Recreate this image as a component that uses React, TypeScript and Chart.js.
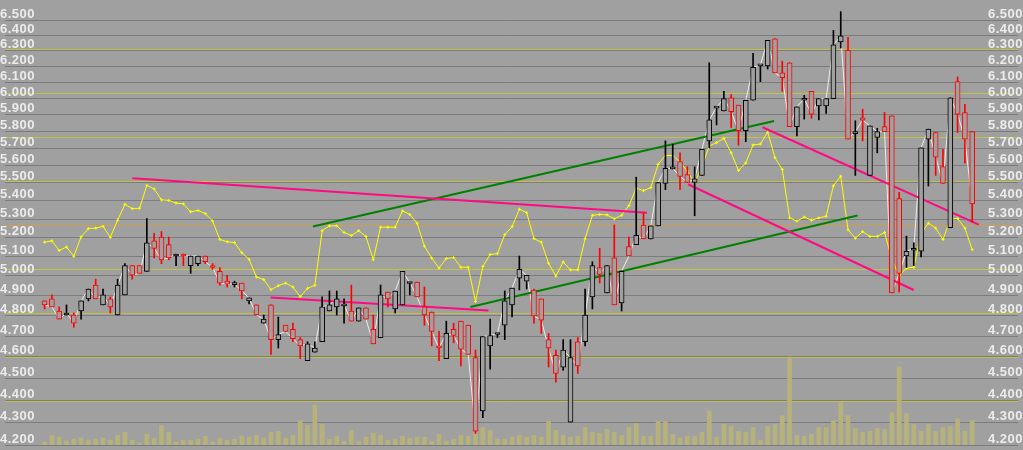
import React, { useEffect, useRef } from 'react';
import { Chart, registerables } from 'chart.js';
Chart.register(...registerables);

// ---- data ----
const OPEN = [4.87, 4.88, 4.82, 4.80, 4.80, 4.82, 4.88, 4.95, 4.85, 4.88,
  4.80, 4.90, 5.05, 5.05, 5.02, 5.18, 5.20, 5.16, 5.10, 5.11,
  5.05, 5.06, 5.10, 5.045, 5.02, 4.97, 4.952, 4.96, 4.87, 4.85,
  4.76, 4.85, 4.68, 4.75, 4.73, 4.68, 4.58, 4.62, 4.67, 4.82,
  4.84, 4.845, 4.82, 4.77, 4.835, 4.73, 4.69, 4.915, 4.83, 4.85,
  4.958, 4.965, 4.84, 4.815, 4.65, 4.59, 4.73, 4.77, 4.75, 4.595,
  4.35, 4.65, 4.705, 4.75, 4.85, 4.985, 4.97, 4.925, 4.88, 4.68,
  4.605, 4.55, 4.30, 4.67, 4.67, 4.89, 5.04, 4.91, 5.09, 4.86,
  5.15, 5.16, 5.265, 5.19, 5.26, 5.495, 5.577, 5.62, 5.545, 5.50,
  5.54, 5.74, 5.937, 5.92, 6.00, 5.955, 5.80, 5.985, 6.20, 6.20,
  6.375, 6.155, 6.22, 5.825, 5.985, 6.04, 5.95, 5.95, 5.995, 6.355,
  6.30, 5.783, 5.878, 5.54, 5.76, 5.825, 5.89, 5.41, 5.10, 5.13,
  5.125, 5.75, 5.79, 5.59, 5.25, 6.10, 5.91, 5.795];
const HIGH = [4.87, 4.90, 4.84, 4.85, 4.81, 4.87, 4.93, 4.98, 4.93, 4.89,
  4.98, 5.06, 5.05, 5.05, 5.30, 5.22, 5.23, 5.20, 5.11, 5.11,
  5.10, 5.10, 5.10, 5.06, 5.04, 5.00, 4.97, 4.96, 4.885, 4.85,
  4.80, 4.85, 4.79, 4.75, 4.76, 4.69, 4.67, 4.67, 4.89, 4.92,
  4.92, 4.88, 4.95, 4.835, 4.835, 4.80, 4.95, 4.915, 4.92, 5.02,
  4.962, 4.965, 4.94, 4.815, 4.72, 4.77, 4.76, 4.77, 4.75, 4.63,
  4.695, 4.78, 4.71, 4.92, 4.935, 5.10, 5.00, 4.93, 4.88, 4.71,
  4.63, 4.68, 4.68, 4.69, 4.93, 5.07, 5.14, 5.05, 5.265, 5.02,
  5.20, 5.53, 5.33, 5.26, 5.50, 5.74, 5.72, 5.67, 5.59, 5.59,
  5.69, 6.22, 5.941, 6.04, 6.02, 5.955, 5.985, 6.28, 6.205, 6.365,
  6.375, 6.23, 6.22, 5.945, 6.015, 6.04, 5.995, 5.995, 6.43, 6.555,
  6.385, 5.86, 5.93, 5.83, 5.815, 5.91, 5.89, 5.445, 5.205, 5.17,
  5.70, 5.81, 5.79, 5.69, 6.00, 6.13, 5.96, 5.795];
const LOW = [4.83, 4.84, 4.78, 4.80, 4.74, 4.78, 4.87, 4.88, 4.85, 4.81,
  4.80, 4.90, 4.98, 5.01, 5.02, 5.09, 5.06, 5.08, 5.05, 5.05,
  5.01, 5.05, 5.06, 5.03, 4.95, 4.94, 4.94, 4.88, 4.855, 4.80,
  4.76, 4.61, 4.64, 4.72, 4.67, 4.59, 4.58, 4.62, 4.67, 4.82,
  4.80, 4.76, 4.77, 4.77, 4.78, 4.66, 4.69, 4.84, 4.81, 4.85,
  4.90, 4.89, 4.75, 4.65, 4.58, 4.59, 4.665, 4.555, 4.61, 4.25,
  4.32, 4.54, 4.69, 4.68, 4.79, 4.925, 4.93, 4.76, 4.71, 4.55,
  4.48, 4.535, 4.30, 4.52, 4.65, 4.83, 4.96, 4.91, 4.85, 4.82,
  5.10, 5.16, 5.19, 5.19, 5.26, 5.46, 5.577, 5.46, 5.50, 5.315,
  5.54, 5.70, 5.835, 5.92, 5.82, 5.715, 5.735, 5.985, 6.10, 6.18,
  6.155, 6.04, 5.825, 5.77, 5.87, 5.875, 5.865, 5.905, 5.995, 6.315,
  5.75, 5.54, 5.74, 5.54, 5.67, 5.795, 4.91, 4.915, 5.04, 5.05,
  5.095, 5.48, 5.54, 5.495, 5.25, 5.79, 5.61, 5.28];
const CLOSE = [4.85, 4.84, 4.78, 4.81, 4.76, 4.87, 4.93, 4.88, 4.90, 4.84,
  4.95, 5.05, 5.00, 5.01, 5.17, 5.14, 5.08, 5.09, 5.11, 5.10,
  5.10, 5.10, 5.07, 5.04, 4.96, 4.955, 4.955, 4.92, 4.885, 4.80,
  4.78, 4.68, 4.705, 4.72, 4.685, 4.65, 4.66, 4.64, 4.84, 4.85,
  4.88, 4.85, 4.77, 4.835, 4.78, 4.66, 4.90, 4.88, 4.92, 5.02,
  4.962, 4.89, 4.80, 4.72, 4.64, 4.71, 4.70, 4.635, 4.61, 4.26,
  4.695, 4.70, 4.708, 4.87, 4.935, 5.03, 5.00, 4.795, 4.775, 4.64,
  4.52, 4.63, 4.595, 4.555, 4.80, 5.05, 5.005, 5.05, 4.85, 5.02,
  5.10, 5.21, 5.19, 5.26, 5.50, 5.58, 5.58, 5.535, 5.50, 5.52,
  5.69, 5.865, 5.941, 5.995, 5.915, 5.80, 5.985, 6.19, 6.205, 6.365,
  6.155, 6.125, 5.825, 5.945, 5.995, 5.90, 5.995, 5.995, 6.335, 6.395,
  5.75, 5.796, 5.864, 5.83, 5.795, 5.795, 4.91, 5.01, 5.125, 5.14,
  5.70, 5.81, 5.645, 5.495, 6.00, 5.90, 5.75, 5.38];
const VOLUME = [3, 10, 8, 4, 6, 7, 5, 6, 7, 5,
  10, 13, 5, 2, 11, 7, 20, 13, 3, 5,
  5, 6, 9, 3, 7, 5, 6, 9, 8, 10,
  7, 13, 14, 7, 10, 25, 20, 41, 21, 6,
  9, 4, 15, 4, 8, 12, 10, 5, 6, 9,
  7, 8, 8, 4, 11, 4, 6, 10, 9, 13,
  18, 15, 6, 6, 8, 10, 8, 10, 8, 24,
  15, 10, 8, 9, 18, 13, 12, 16, 13, 10,
  18, 22, 9, 9, 24, 24, 11, 7, 9, 9,
  13, 35, 8, 21, 19, 14, 13, 18, 5, 19,
  21, 30, 90, 10, 9, 11, 18, 18, 25, 44,
  30, 17, 13, 14, 17, 16, 33, 80, 32, 21,
  14, 21, 14, 18, 19, 27, 14, 25];
const INDICATOR = [46.1, 46.4, 44.2, 45.0, 42.9, 47.3, 49.2, 49.3, 49.7, 47.2,
  51.1, 54.7, 53.7, 53.8, 59.0, 58.2, 55.7, 55.6, 55.0, 54.8,
  53.0, 53.3, 52.6, 50.9, 46.7, 46.2, 46.0, 43.7, 42.2, 38.2,
  37.6, 35.3, 36.2, 36.8, 35.9, 33.7, 35.6, 36.3, 48.7, 49.8,
  49.8, 48.3, 47.6, 48.7, 47.4, 42.1, 49.5, 49.5, 49.5, 53.2,
  52.4, 50.4, 45.2, 42.5, 40.2, 42.4, 42.6, 40.4, 40.4, 32.6,
  40.6, 43.3, 43.5, 47.8, 49.6, 53.6, 52.8, 46.9, 46.1, 41.3,
  38.4, 41.6, 39.8, 39.8, 46.9, 52.2, 52.4, 52.3, 51.4, 52.2,
  54.4, 58.4, 57.8, 58.5, 63.8, 65.8, 65.8, 64.3, 62.2, 59.6,
  63.3, 68.0, 68.7, 69.7, 66.4, 62.4, 64.1, 68.2, 68.4, 71.1,
  65.3, 62.6, 51.6, 50.9, 51.8, 51.1, 51.6, 52.0, 58.9, 61.1,
  48.9, 47.0, 48.5, 47.4, 47.4, 48.3, 42.2, 38.5, 40.2, 40.4,
  48.1, 50.4, 49.3, 46.7, 51.3, 51.5, 49.3, 44.4];
const PRICE_TICKS = [6.5, 6.4, 6.3, 6.2, 6.1, 6.0, 5.9, 5.8, 5.7, 5.6, 5.5, 5.4,
  5.3, 5.2, 5.1, 5.0, 4.9, 4.8, 4.7, 4.6, 4.5, 4.4, 4.3, 4.2];
const TICK_LABELS = PRICE_TICKS.map((v) => v.toFixed(3));
// trend lines: [index, price] start and end
const PINK_LINE_1 = [[12, 5.524], [82.47, 5.331]];
const PINK_LINE_2 = [[30.95, 4.887], [60.78, 4.822]];
const PINK_LINE_3 = [[98.3, 5.821], [127.9, 5.267]];
const PINK_LINE_4 = [[88.1, 5.49], [119.0, 4.925]];
const GREEN_LINE_1 = [[36.74, 5.257], [99.88, 5.858]];
const GREEN_LINE_2 = [[58.3, 4.84], [111.3, 5.317]];

const BG = '#a0a0a0';
const RED = '#ff0000';
const BLACK = '#000000';
const PINK = '#ff0a82';
const GREEN = '#008000';

const bgPlugin = {
  id: 'bgGrid',
  beforeDraw(chart: any) {
    const { ctx, chartArea: a, scales } = chart;
    ctx.save();
    ctx.fillStyle = BG;
    ctx.fillRect(0, 0, chart.width, chart.height);
    ctx.lineWidth = 1;
    ctx.strokeStyle = '#7c7c7c';
    for (const t of PRICE_TICKS) {
      const py = Math.round(scales.y.getPixelForValue(t)) + 0.5;
      ctx.beginPath();
      ctx.moveTo(a.left, py);
      ctx.lineTo(a.right, py);
      ctx.stroke();
    }
    for (let k = 1; k < 10; k++) {
      const py = Math.round(a.top + (a.height * k) / 10) + 0.5;
      ctx.strokeStyle = k === 5 ? '#c8a050' : '#c4c044';
      ctx.beginPath();
      ctx.moveTo(a.left, py);
      ctx.lineTo(a.right, py);
      ctx.stroke();
    }
    ctx.restore();
  },
  afterDraw(chart: any) {
    const { ctx, scales } = chart;
    ctx.save();
    ctx.font = 'bold 13px "Liberation Sans", Arial, sans-serif';
    ctx.fillStyle = '#ececec';
    ctx.textBaseline = 'alphabetic';
    ctx.textAlign = 'left';
    try { (ctx as any).letterSpacing = '0.5px'; } catch (e) {}
    PRICE_TICKS.forEach((t, k) => {
      const py = Math.round(scales.y.getPixelForValue(t)) - 2;
      ctx.fillText(TICK_LABELS[k], 0, py);
      ctx.fillText(TICK_LABELS[k], 988, py);
    });
    ctx.restore();
  },
};

function trend(pts: number[][], color: string, label: string) {
  return {
    type: 'line' as const,
    label,
    data: pts.map(([x, y]) => ({ x, y })),
    borderColor: color,
    borderWidth: 2,
    pointRadius: 0,
    order: 5,
  };
}

export default function App() {
  const ref = useRef<HTMLCanvasElement | null>(null);
  useEffect(() => {
    if (!ref.current) return;
    const colors = OPEN.map((o, i) => (CLOSE[i] < o ? RED : BLACK));
    const chart = new Chart(ref.current, {
      type: 'bar',
      data: {
        datasets: [
          {
            type: 'bar',
            label: 'volume',
            yAxisID: 'yv',
            data: VOLUME.map((v, i) => ({ x: i, y: v })),
            backgroundColor: '#b6b27a',
            barThickness: 4,
            grouped: false,
            order: 10,
          } as any,
          {
            type: 'line',
            label: 'close',
            data: CLOSE.map((v, i) => ({ x: i, y: v })),
            borderColor: '#ececec',
            borderWidth: 1,
            pointRadius: 0,
            order: 9,
          },
          {
            type: 'line',
            label: 'indicator',
            yAxisID: 'yi',
            data: INDICATOR.map((v, i) => ({ x: i, y: v })),
            borderColor: '#ffff00',
            borderWidth: 1,
            pointStyle: 'cross',
            pointRadius: 1.5,
            pointBorderColor: '#ffff00',
            pointBorderWidth: 1,
            order: 8,
          },
          trend(PINK_LINE_1, PINK, 'p1'),
          trend(PINK_LINE_2, PINK, 'p2'),
          trend(PINK_LINE_3, PINK, 'p3'),
          trend(PINK_LINE_4, PINK, 'p4'),
          trend(GREEN_LINE_1, GREEN, 'g1'),
          trend(GREEN_LINE_2, GREEN, 'g2'),
          {
            type: 'bar',
            label: 'wick',
            data: LOW.map((l, i) => ({ x: i, y: [l, HIGH[i]] })),
            backgroundColor: colors,
            barThickness: 1,
            grouped: false,
            order: 2,
          } as any,
          {
            type: 'bar',
            label: 'body',
            data: OPEN.map((o, i) => ({ x: i, y: [o, CLOSE[i]] })),
            backgroundColor: BG,
            borderColor: colors,
            borderWidth: 1,
            borderSkipped: false,
            barThickness: 5,
            minBarLength: 2,
            grouped: false,
            order: 1,
          } as any,
        ],
      },
      options: {
        animation: false,
        responsive: false,
        devicePixelRatio: 1,
        layout: { padding: 0 },
        plugins: { legend: { display: false }, tooltip: { enabled: false } },
        scales: {
          x: { type: 'linear', min: -5.42, max: 133.27, offset: false, display: false, grid: { offset: false } },
          y: { type: 'logarithmic', min: 4.2, max: 6.6, display: false },
          yi: { type: 'linear', min: 0, max: 100, display: false },
          yv: { type: 'linear', min: 0, max: 450, display: false },
        },
      } as any,
      plugins: [bgPlugin],
    });
    return () => chart.destroy();
  }, []);
  return (
    <div style={{ position: 'fixed', left: 0, top: 0, width: 1023, height: 450, background: BG }}>
      <canvas ref={ref} width={1023} height={450} style={{ display: 'block' }} />
    </div>
  );
}
